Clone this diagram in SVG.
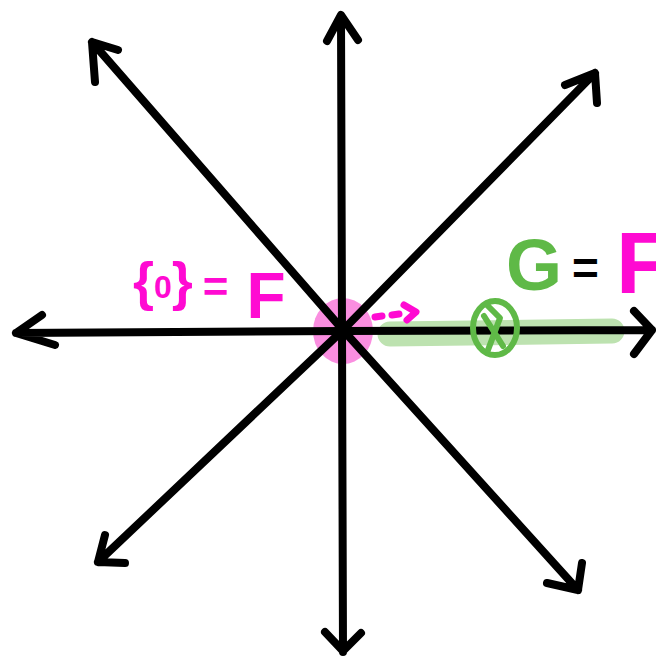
<svg xmlns="http://www.w3.org/2000/svg" width="656" height="659" viewBox="0 0 656 659">
<style>
.ax{fill:none;stroke:#000;stroke-width:8;stroke-linecap:round;stroke-linejoin:round}
.pk{fill:none;stroke:#ff0ad2;stroke-width:7;stroke-linecap:round;stroke-linejoin:round}
.gr{fill:none;stroke:#5fb947;stroke-width:6;stroke-linecap:round;stroke-linejoin:round}
.t{font-family:"Liberation Sans",Arial,sans-serif;font-weight:bold}
</style>
<rect width="656" height="659" fill="#fff"/>
<g id="highlights">
<ellipse cx="343" cy="331" rx="30" ry="33" fill="#fa8ee0"/>
<path d="M390 334 L612 331" fill="none" stroke="#bde2b0" stroke-width="25" stroke-linecap="round"/>
</g>
<g id="connectors">
<path class="ax" d="M342 330 L341 16 M327 41 L341 15 L358 40"/>
<path class="ax" d="M342 330 L343 652 M325 632 L343 651 L361 633"/>
<path class="ax" d="M343 331 L16 333 M42 315 L16 333 L55 345"/>
<path class="ax" d="M343 331 L652 330 M634 311 L652 330 L634 354"/>
<path class="ax" d="M343 330 L92 42 M118 50 L92 42 L95 82"/>
<path class="ax" d="M343 330 L595 73 M565 85 L595 73 L597 103"/>
<path class="ax" d="M343 330 L98 562 M105 535 L98 562 L125 563"/>
<path class="ax" d="M343 330 L578 590 M547 583 L578 590 L582 563"/>
</g>
<g id="pink-arrow">
<path class="pk" d="M375 317 L382 316 M392 315 L399 314 M404 305 L416 312 L407 320"/>
</g>
<g id="circled-x">
<ellipse cx="495" cy="328" rx="22" ry="27" class="gr" stroke-width="7"/>
<path class="gr" d="M486 304 L500 318 L488 350 M484 316 L503 346"/>
</g>
<g id="label-left">
<text class="t" x="133" y="300" font-size="54" fill="#ff0ad2">{<tspan font-size="32" dy="-2">0</tspan><tspan dy="2">}</tspan><tspan font-size="44" dx="10" dy="2">=</tspan><tspan font-size="64" dx="18" dy="16">F</tspan></text>
</g>
<g id="label-right">
<text class="t" x="506" y="290" font-size="72" fill="#5fb947">G</text>
<text class="t" x="572" y="284" font-size="46" fill="#000">=</text>
<text class="t" x="616" y="293" font-size="88" fill="#ff0ad2">F</text>
</g>
</svg>
